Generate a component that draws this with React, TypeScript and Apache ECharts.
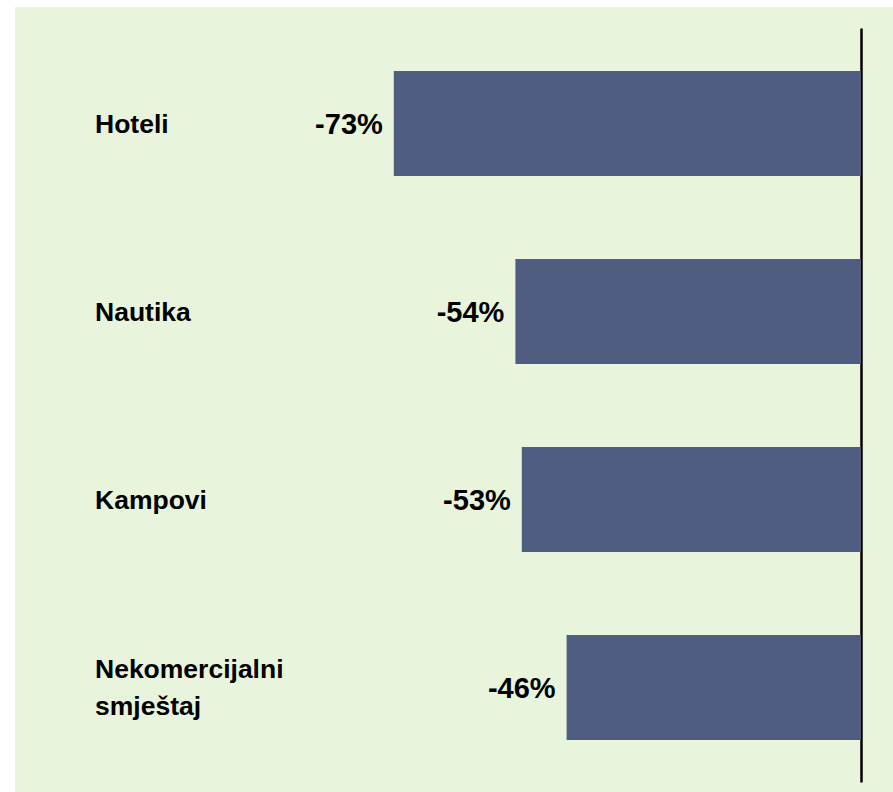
import React, { useEffect, useRef } from "react";
import * as echarts from "echarts";

const categories = ["Hoteli", "Nautika", "Kampovi", "Nekomercijalni\nsmještaj"];
const values = [-73, -54, -53, -46];
const axisMin = -100;
const axisMax = 0;

export default function App() {
  const ref = useRef<HTMLDivElement>(null);
  useEffect(() => {
    if (!ref.current) return;
    const chart = echarts.init(ref.current, undefined, { renderer: "svg" });
    const font = "'Liberation Sans', Arial, Helvetica, sans-serif";
    chart.setOption({
      animation: false,
      backgroundColor: "#E8F5DC",
      grid: { left: 206, right: 32, top: 22.5, bottom: 10.5, containLabel: false },
      xAxis: {
        type: "value",
        min: axisMin,
        max: axisMax,
        show: false,
      },
      yAxis: [
        {
          type: "category",
          data: categories,
          inverse: true,
          position: "right",
          axisLine: { show: true, lineStyle: { color: "#000000", width: 2.5 } },
          axisTick: { show: false },
          axisLabel: { show: false },
          splitLine: { show: false },
        },
        {
          type: "category",
          data: categories,
          inverse: true,
          position: "left",
          axisLine: { show: false },
          axisTick: { show: false },
          splitLine: { show: false },
          axisLabel: {
            show: true,
            align: "left",
            margin: 126,
            color: "#000000",
            fontFamily: font,
            fontWeight: "bold",
            fontSize: 26.5,
            lineHeight: 37,
          },
        },
      ],
      series: [
        {
          type: "bar",
          yAxisIndex: 0,
          data: values,
          barWidth: 105,
          itemStyle: { color: "#4F5E80" },
          label: {
            show: true,
            position: "left",
            distance: 11,
            formatter: (p: any) => `${p.value}%`,
            color: "#000000",
            fontFamily: font,
            fontWeight: "bold",
            fontSize: 29,
          },
        },
      ],
    });
    return () => chart.dispose();
  }, []);
  return (
    <div style={{ position: "absolute", left: 0, top: 0, width: 893, height: 792, background: "#ffffff" }}>
      <div ref={ref} style={{ position: "absolute", left: 15, top: 7, width: 878, height: 785 }} />
    </div>
  );
}
